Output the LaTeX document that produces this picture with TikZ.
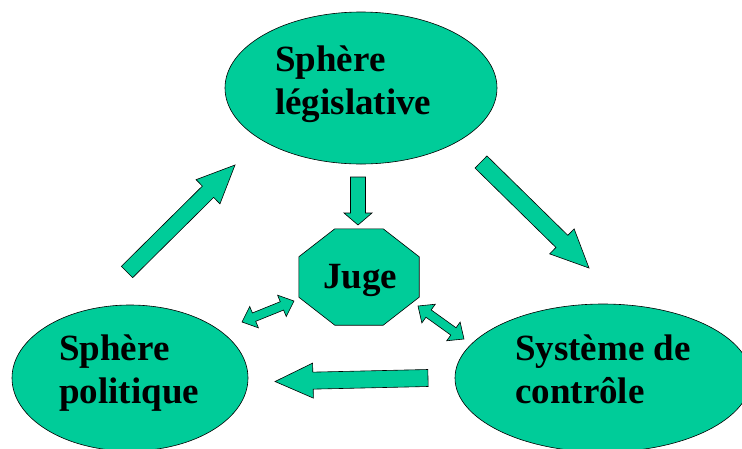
\documentclass[tikz,border=0pt]{standalone}
\usepackage{fontspec}
\setmainfont{Liberation Serif}
\usetikzlibrary{shapes.geometric,calc}

\definecolor{sea}{RGB}{0,204,153}

\tikzset{
  solid shape/.style={fill=sea, draw=black, line width=0.6pt},
  bubble/.style={solid shape, ellipse, inner sep=0pt},
  caption/.style={font=\fontsize{37}{43}\selectfont\bfseries, align=left,
                  anchor=base west, inner sep=0pt},
}

% length and direction from #1 to #2, stored in \arrowlen and \arrowdir
\newcommand\measurearrow[2]{%
  \path let \p1=($(#2)-(#1)$) in \pgfextra{%
    \pgfmathsetmacro\tmplen{veclen(\x1,\y1)}%
    \pgfmathsetmacro\tmpdir{atan2(\y1,\x1)}%
    \global\let\arrowlen\tmplen
    \global\let\arrowdir\tmpdir};}

% block arrow from #1 to #2; #3 half shaft width, #4 half head width, #5 head length
\newcommand\blockarrow[5]{%
  \measurearrow{#1}{#2}%
  \begin{scope}[shift={(#1)}, rotate=\arrowdir, x=1pt, y=1pt]
    \draw[solid shape] (0,-#3) -- (\arrowlen-#5,-#3) -- (\arrowlen-#5,-#4)
      -- (\arrowlen,0) -- (\arrowlen-#5,#4) -- (\arrowlen-#5,#3) -- (0,#3) -- cycle;
  \end{scope}}

% double-headed block arrow between #1 and #2
\newcommand\twowayarrow[5]{%
  \measurearrow{#1}{#2}%
  \begin{scope}[shift={(#1)}, rotate=\arrowdir, x=1pt, y=1pt]
    \draw[solid shape] (0,0) -- (#5,-#4) -- (#5,-#3) -- (\arrowlen-#5,-#3)
      -- (\arrowlen-#5,-#4) -- (\arrowlen,0) -- (\arrowlen-#5,#4)
      -- (\arrowlen-#5,#3) -- (#5,#3) -- (#5,#4) -- cycle;
  \end{scope}}

\begin{document}
\begin{tikzpicture}[x=1pt, y=-1pt]
  \clip (0,0) rectangle (742,448);
  \fill[white] (0,0) rectangle (742,448);

  % the three spheres
  \node[bubble, minimum width=272pt, minimum height=152pt] (leg) at (361,88) {};
  \node[bubble, minimum width=236pt, minimum height=146pt] (pol) at (130,378) {};
  \node[bubble, minimum width=296pt, minimum height=148pt] (ctl) at (603,378) {};

  % captions, placed by the baseline of their last line
  \node[caption] (legtext) at (275,114) {Sphère\\législative};
  \node[caption] (poltext) at (59,403) {Sphère\\politique};
  \node[caption] (ctltext) at (515,403) {Système de\\contrôle};

  % the judge in the middle: an octagon with cut corners 36 x 28
  \node[minimum width=120pt, minimum height=96pt, inner sep=0pt] (juge) at (359,277) {};
  \draw[solid shape]
    ($(juge.north west)+(36,0)$) -- ($(juge.north east)+(-36,0)$)
    -- ($(juge.north east)+(0,28)$) -- ($(juge.south east)+(0,-28)$)
    -- ($(juge.south east)+(-36,0)$) -- ($(juge.south west)+(36,0)$)
    -- ($(juge.south west)+(0,-28)$) -- ($(juge.north west)+(0,28)$) -- cycle;
  \node[font=\fontsize{37}{43}\selectfont\bfseries, anchor=base, inner sep=0pt]
        (jugetext) at (360,288) {Juge};

  % arrow ends
  \coordinate (polout) at (127,272);
  \coordinate (legin)  at (235,165);
  \coordinate (legout) at (481,162);
  \coordinate (ctlin)  at (589,268);
  \coordinate (ctlout) at (428,378);
  \coordinate (polin)  at (275,381.5);
  \coordinate (legdown) at (358,177);
  \coordinate (jugein)  at (358,225);
  \coordinate (polside) at (242,322);
  \coordinate (jugeleft) at (294,301);
  \coordinate (jugeright) at (418,306);
  \coordinate (ctlside) at (464,339);

  % cycle between the spheres
  \blockarrow{polout}{legin}{8}{17}{38}
  \blockarrow{legout}{ctlin}{8.5}{17.5}{38}
  \blockarrow{ctlout}{polin}{8.5}{17.5}{38}

  % links with the judge
  \blockarrow{legdown}{jugein}{7.5}{14}{12}
  \twowayarrow{polside}{jugeleft}{4.5}{11.5}{13}
  \twowayarrow{jugeright}{ctlside}{4.5}{11.5}{13}
\end{tikzpicture}
\end{document}
